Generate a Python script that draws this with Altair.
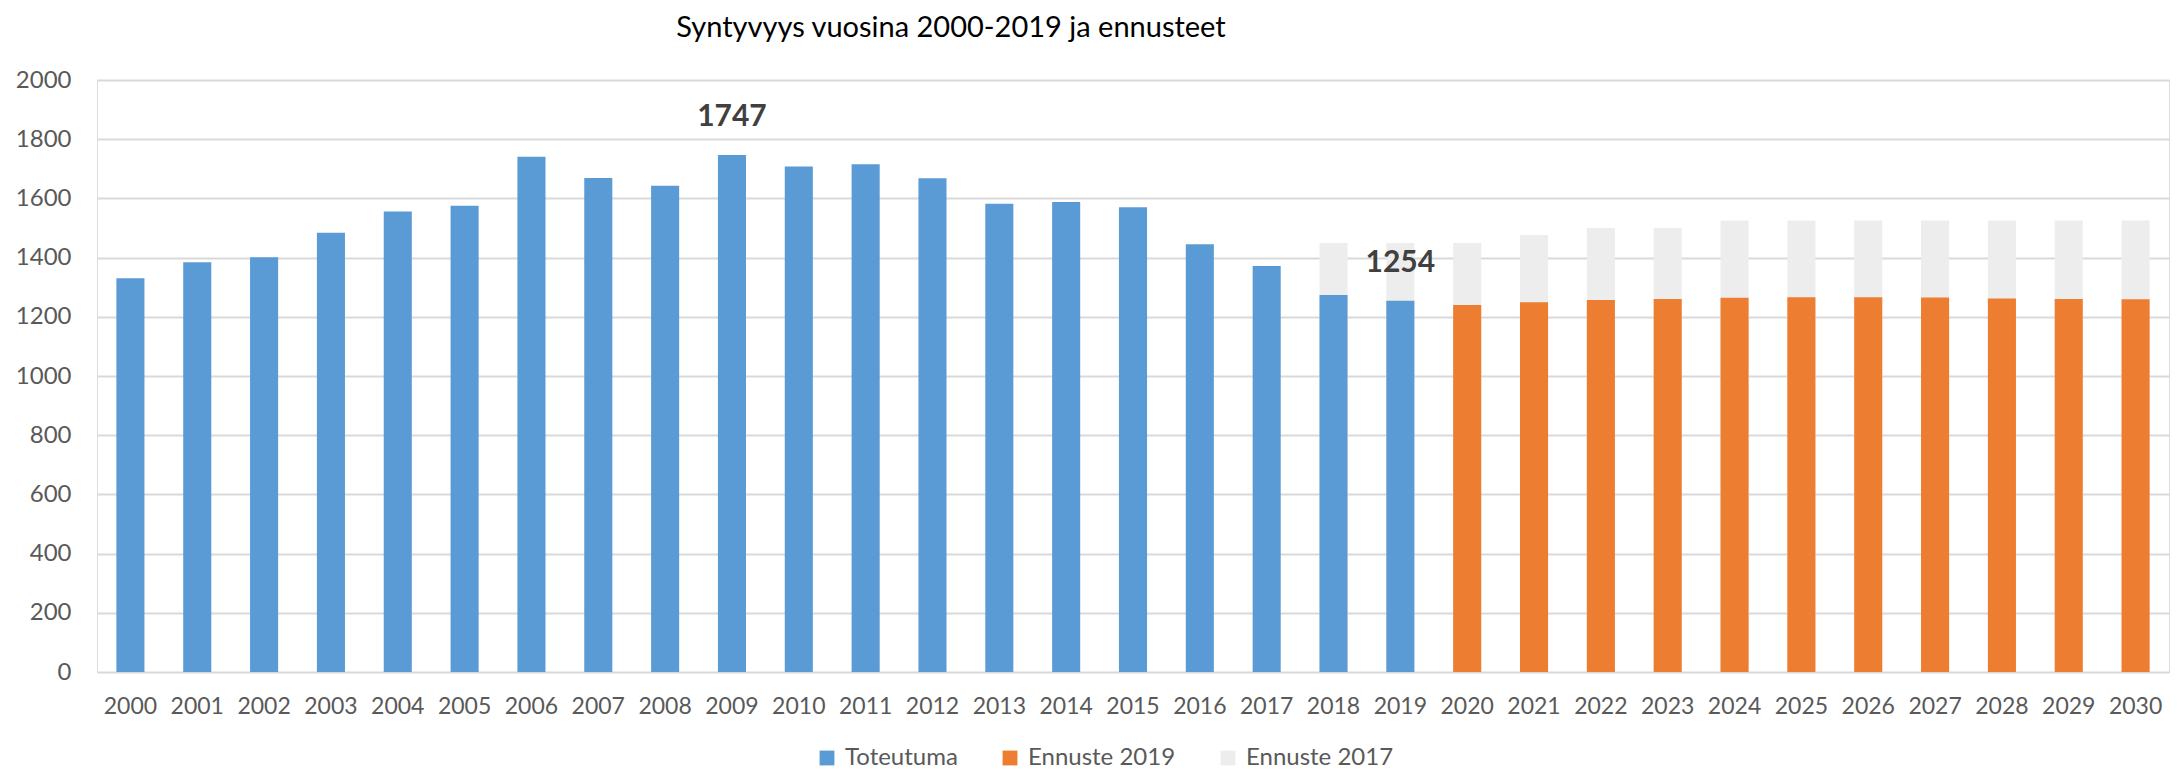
import altair as alt
import pandas as pd

years = [str(y) for y in range(2000, 2031)]
toteutuma_years = [str(y) for y in range(2000, 2020)]
toteutuma = [1330, 1384, 1401, 1484, 1556, 1575, 1741, 1669, 1643, 1747,
             1708, 1715, 1668, 1582, 1588, 1570, 1445, 1372, 1274, 1254]
ennuste2019_years = [str(y) for y in range(2020, 2031)]
ennuste2019 = [1240, 1249, 1257, 1260, 1264, 1266, 1266, 1265, 1262, 1260, 1259]
ennuste2017_years = [str(y) for y in range(2018, 2031)]
ennuste2017 = [1449, 1449, 1449, 1476, 1500, 1500, 1525, 1525, 1525, 1525, 1525, 1525, 1525]
label_years = ["2009", "2019"]
label_values = [1747, 1254]

series_names = ["Toteutuma", "Ennuste 2019", "Ennuste 2017"]
series_colors = ["#5B9BD5", "#ED7D31", "#EDEDED"]

front = pd.DataFrame({
    "vuosi": toteutuma_years + ennuste2019_years,
    "arvo": toteutuma + ennuste2019,
    "sarja": ["Toteutuma"] * len(toteutuma) + ["Ennuste 2019"] * len(ennuste2019),
})
back = pd.DataFrame({
    "vuosi": ennuste2017_years,
    "arvo": ennuste2017,
    "sarja": ["Ennuste 2017"] * len(ennuste2017),
})
labels = pd.DataFrame({"vuosi": label_years, "arvo": label_values})

FONT = "Lato"

x_enc = alt.X("vuosi:N", sort=years,
              scale=alt.Scale(domain=years, paddingInner=0.58, paddingOuter=0.29),
              axis=alt.Axis(title=None, labelAngle=0, labelFontSize=23, labelColor="#595959",
                            labelFont=FONT, ticks=False, domain=False, labelPadding=23))
y_enc = alt.Y("arvo:Q",
              scale=alt.Scale(domain=[0, 2000], nice=False),
              axis=alt.Axis(title=None, values=list(range(0, 2001, 200)), format="d",
                            labelFontSize=24, labelColor="#595959", labelFont=FONT,
                            ticks=False, domain=False, labelPadding=26,
                            gridColor="#D9D9D9", gridWidth=2))
color_enc = alt.Color("sarja:N",
                      scale=alt.Scale(domain=series_names, range=series_colors),
                      legend=alt.Legend(title=None, orient="none", direction="horizontal",
                                        legendX=718, legendY=666, symbolType="square",
                                        symbolSize=220, symbolStrokeWidth=0,
                                        labelFontSize=24, labelColor="#595959", labelFont=FONT,
                                        columnPadding=40, labelOffset=6))

back_bars = alt.Chart(back).mark_bar().encode(x=x_enc, y=y_enc, color=color_enc)
front_bars = alt.Chart(front).mark_bar().encode(x=x_enc, y=y_enc, color=color_enc)
text = alt.Chart(labels).mark_text(fontSize=30, fontWeight="bold", color="#404040",
                                   font=FONT, dy=-38, baseline="middle").encode(
    x=alt.X("vuosi:N", sort=years), y="arvo:Q", text="arvo:Q")

chart = alt.layer(back_bars, front_bars, text).properties(
    width=2072, height=592,
    title=alt.TitleParams("Syntyvyys vuosina 2000-2019 ja ennusteet", fontSize=29,
                          font=FONT, fontWeight="normal", color="#000000",
                          anchor="middle", dx=-182, offset=25),
    autosize=alt.AutoSizeParams(type="none"),
    padding={"left": 89, "top": 72, "right": 1, "bottom": 99},
).configure_view(stroke=None).configure(background="white")

chart.save("out.html", embed_options={"renderer": "svg", "actions": False})
